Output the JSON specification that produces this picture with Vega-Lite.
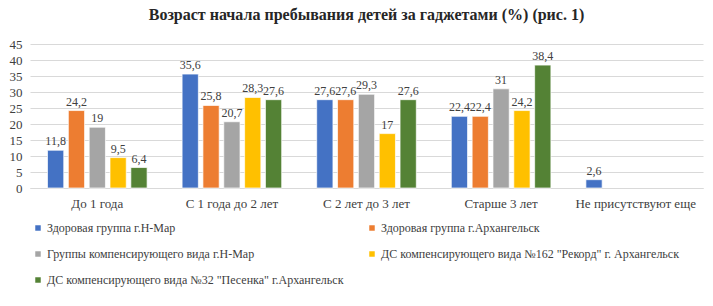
{
  "$schema": "https://vega.github.io/schema/vega-lite/v6.json",
  "autosize": {"type": "none"},
  "width": 673,
  "height": 144,
  "padding": {"left": 30, "top": 44, "right": 10, "bottom": 118},
  "background": "white",
  "config": {
    "locale": {"number": {"decimal": ",", "thousands": " ", "grouping": [3], "currency": ["", ""]}},
    "font": "Times New Roman, Liberation Serif, serif",
    "view": {"stroke": null}
  },
  "title": {
    "text": "Возраст  начала  пребывания детей за гаджетами (%) (рис. 1)",
    "font": "Times New Roman, Liberation Serif, serif",
    "fontSize": 16,
    "fontWeight": "bold",
    "color": "#262626",
    "anchor": "middle",
    "offset": 15
  },
  "data": {
    "values": [
      {"cat": "До 1 года", "series": "Здоровая группа г.Н-Мар", "v": 11.8},
      {"cat": "До 1 года", "series": "Здоровая группа г.Архангельск", "v": 24.2},
      {"cat": "До 1 года", "series": "Группы компенсирующего вида г.Н-Мар", "v": 19},
      {"cat": "До 1 года", "series": "ДС компенсирующего вида №162 \"Рекорд\" г. Архангельск", "v": 9.5},
      {"cat": "До 1 года", "series": "ДС компенсирующего вида №32 \"Песенка\" г.Архангельск", "v": 6.4},
      {"cat": "С 1 года до 2 лет", "series": "Здоровая группа г.Н-Мар", "v": 35.6},
      {"cat": "С 1 года до 2 лет", "series": "Здоровая группа г.Архангельск", "v": 25.8},
      {"cat": "С 1 года до 2 лет", "series": "Группы компенсирующего вида г.Н-Мар", "v": 20.7},
      {"cat": "С 1 года до 2 лет", "series": "ДС компенсирующего вида №162 \"Рекорд\" г. Архангельск", "v": 28.3},
      {"cat": "С 1 года до 2 лет", "series": "ДС компенсирующего вида №32 \"Песенка\" г.Архангельск", "v": 27.6},
      {"cat": "С 2 лет до 3 лет", "series": "Здоровая группа г.Н-Мар", "v": 27.6},
      {"cat": "С 2 лет до 3 лет", "series": "Здоровая группа г.Архангельск", "v": 27.6},
      {"cat": "С 2 лет до 3 лет", "series": "Группы компенсирующего вида г.Н-Мар", "v": 29.3},
      {"cat": "С 2 лет до 3 лет", "series": "ДС компенсирующего вида №162 \"Рекорд\" г. Архангельск", "v": 17},
      {"cat": "С 2 лет до 3 лет", "series": "ДС компенсирующего вида №32 \"Песенка\" г.Архангельск", "v": 27.6},
      {"cat": "Старше 3 лет", "series": "Здоровая группа г.Н-Мар", "v": 22.4},
      {"cat": "Старше 3 лет", "series": "Здоровая группа г.Архангельск", "v": 22.4},
      {"cat": "Старше 3 лет", "series": "Группы компенсирующего вида г.Н-Мар", "v": 31},
      {"cat": "Старше 3 лет", "series": "ДС компенсирующего вида №162 \"Рекорд\" г. Архангельск", "v": 24.2},
      {"cat": "Старше 3 лет", "series": "ДС компенсирующего вида №32 \"Песенка\" г.Архангельск", "v": 38.4},
      {"cat": "Не присутствуют  еще", "series": "Здоровая группа г.Н-Мар", "v": 2.6}
    ]
  },
  "encoding": {
    "x": {
      "field": "cat", "type": "nominal", "sort": null,
      "scale": {"paddingInner": 0.26, "paddingOuter": 0.13},
      "axis": {
        "title": null, "labelAngle": 0, "ticks": false, "domainColor": "#d9d9d9",
        "labelFontSize": 13, "labelColor": "#404040", "labelPadding": 9, "labelFont": "Times New Roman, Liberation Serif, serif"
      }
    },
    "xOffset": {
      "field": "series", "type": "nominal", "sort": null,
      "scale": {"paddingInner": 0.22,
        "domain": ["Здоровая группа г.Н-Мар", "Здоровая группа г.Архангельск", "Группы компенсирующего вида г.Н-Мар", "ДС компенсирующего вида №162 \"Рекорд\" г. Архангельск", "ДС компенсирующего вида №32 \"Песенка\" г.Архангельск"]}
    },
    "y": {
      "field": "v", "type": "quantitative",
      "scale": {"domain": [0, 45]},
      "axis": {
        "title": null, "values": [0, 5, 10, 15, 20, 25, 30, 35, 40, 45], "ticks": false, "domain": false,
        "gridColor": "#d9d9d9", "labelFontSize": 13, "labelColor": "#404040", "labelPadding": 8, "labelFont": "Times New Roman, Liberation Serif, serif"
      }
    }
  },
  "layer": [
    {
      "mark": {"type": "bar", "stroke": "white", "strokeWidth": 0.7},
      "encoding": {
        "color": {
          "field": "series", "type": "nominal", "sort": null,
          "scale": {
            "domain": ["Здоровая группа г.Н-Мар", "Группы компенсирующего вида г.Н-Мар", "ДС компенсирующего вида №32 \"Песенка\" г.Архангельск", "Здоровая группа г.Архангельск", "ДС компенсирующего вида №162 \"Рекорд\" г. Архангельск"],
            "range": ["#4472C4", "#A5A5A5", "#548235", "#ED7D31", "#FFC000"]
          },
          "legend": {
            "title": null, "orient": "none", "legendX": 2, "legendY": 178,
            "columns": 2, "columnPadding": 22, "rowPadding": 14,
            "symbolType": "square", "symbolSize": 30, "symbolOffset": 0, "symbolStrokeWidth": 0,
            "labelFontSize": 12, "labelColor": "#404040", "labelFont": "Times New Roman, Liberation Serif, serif", "labelOffset": 3, "labelLimit": 400
          }
        }
      }
    },
    {
      "mark": {"type": "text", "dy": -9, "fontSize": 12, "color": "#404040", "font": "Times New Roman, Liberation Serif, serif"},
      "encoding": {
        "text": {"field": "v", "type": "quantitative", "format": "~r"}
      }
    }
  ]
}
